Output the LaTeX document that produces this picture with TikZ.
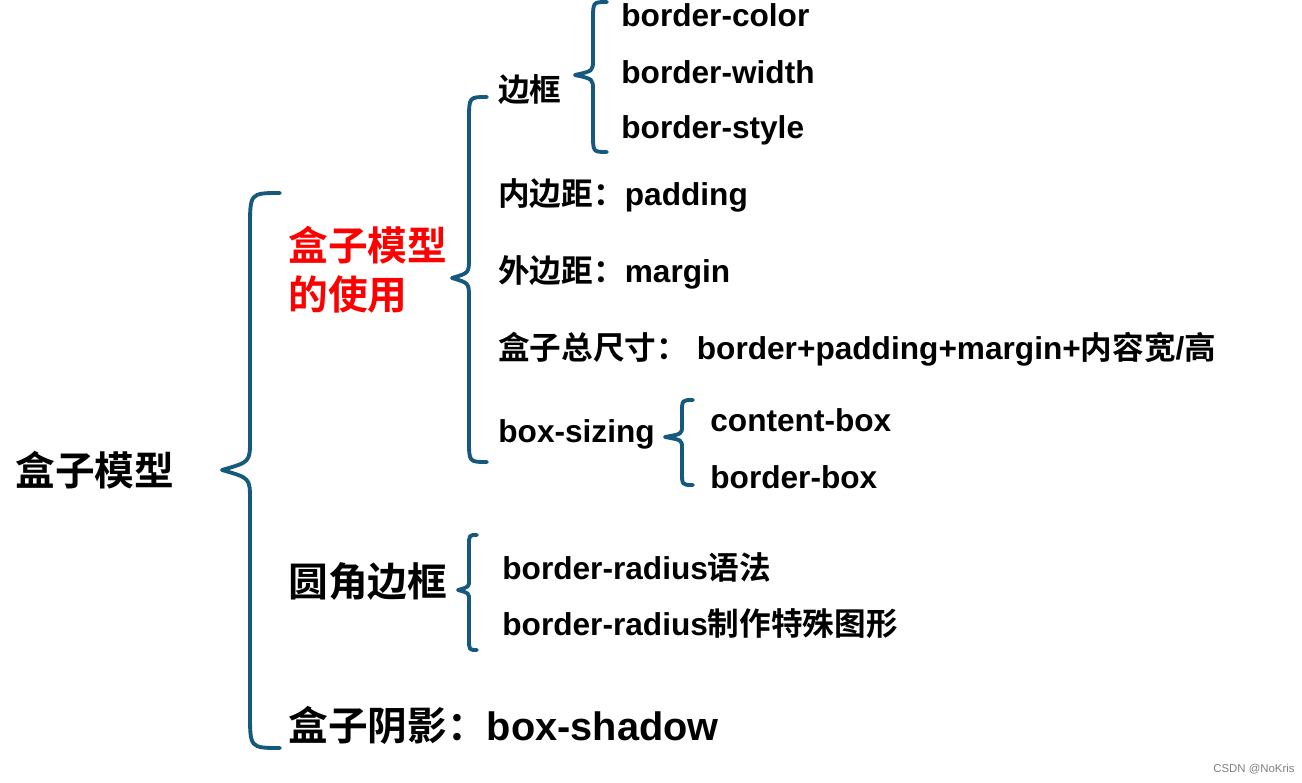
\documentclass[tikz,border=0pt]{standalone}
\usepackage{fontspec}
\setmainfont{Liberation Sans}
\newfontfamily\cjk{Noto Sans CJK SC}[BoldFont={Noto Sans CJK SC Bold}]
\newcommand\zh[1]{{\cjk #1}}
\definecolor{kuocolor}{HTML}{15597D}
\definecolor{hongse}{RGB}{255,0,0}
\tikzset{
  kuo/.style={draw=kuocolor, line width=2.2pt, line cap=round, line join=round},
  t1/.style={anchor=west, inner sep=0pt, font=\fontsize{22.6}{28}\selectfont\bfseries},
  t2/.style={anchor=west, inner sep=0pt, font=\fontsize{18}{22}\selectfont\bfseries},
}

\begin{document}
\begin{tikzpicture}[x=0.02cm,y=-0.02cm]
\useasboundingbox (0,0) rectangle (1302,783);

\node[t1] (gen) at (15,470) {\zh{盒子模型}};

\node[t1,text=hongse,align=left] (A1) at (288,270) {\zh{盒子模型}\\\zh{的使用}};
\node[t1] (A2) at (288,582) {\zh{圆角边框}};
\node[t1] (A3) at (288,725) {\zh{盒子阴影：}box-shadow};

\node[t2] (B1) at (498,90) {\zh{边框}};
\node[t2] (B2) at (498,195) {\zh{内边距：}padding};
\node[t2] (B3) at (498,272) {\zh{外边距：}margin};
\node[t2] (B4) at (498,349) {\zh{盒子总尺寸：}\ border+padding+margin+\zh{内容宽}/\zh{高}};
\node[t2] (B5) at (498,434) {box-sizing};

\node[t2] (C1) at (621,15) {border-color};
\node[t2] (C2) at (621,72) {border-width};
\node[t2] (C3) at (621,130) {border-style};

\node[t2] (D1) at (710,420) {content-box};
\node[t2] (D2) at (710,477) {border-box};

\node[t2] (E1) at (502,567) {border-radius\zh{语法}};
\node[t2] (E2) at (502,624) {border-radius\zh{制作特殊图形}};

\node[anchor=east, inner sep=0pt, text=gray, font=\fontsize{6.5}{8}\selectfont] (sy) at (1295,769) {CSDN @NoKris};

% braces
\path[kuo] (280,193) .. controls (250,193) .. (250,228) -- (250,440) .. controls (250,462) .. (222,470) .. controls (250,478) .. (250,500) -- (250,713) .. controls (250,748) .. (280,748);
\path[kuo] (487,97) .. controls (469,97) .. (469,120) -- (469,258) .. controls (469,273) .. (452,278) .. controls (469,283) .. (469,298) -- (469,440) .. controls (469,462) .. (487,462);
\path[kuo] (607,2) .. controls (593,2) .. (593,20) -- (593,60) .. controls (593,71) .. (575,75) .. controls (593,79) .. (593,90) -- (593,134) .. controls (593,152) .. (607,152);
\path[kuo] (693,400) .. controls (682,400) .. (682,413) -- (682,426) .. controls (682,434) .. (665,437) .. controls (682,440) .. (682,448) -- (682,472) .. controls (682,485) .. (693,485);
\path[kuo] (477,535) .. controls (469,535) .. (469,546) -- (469,580) .. controls (469,587) .. (458,590) .. controls (469,593) .. (469,600) -- (469,639) .. controls (469,650) .. (477,650);
\end{tikzpicture}
\end{document}
